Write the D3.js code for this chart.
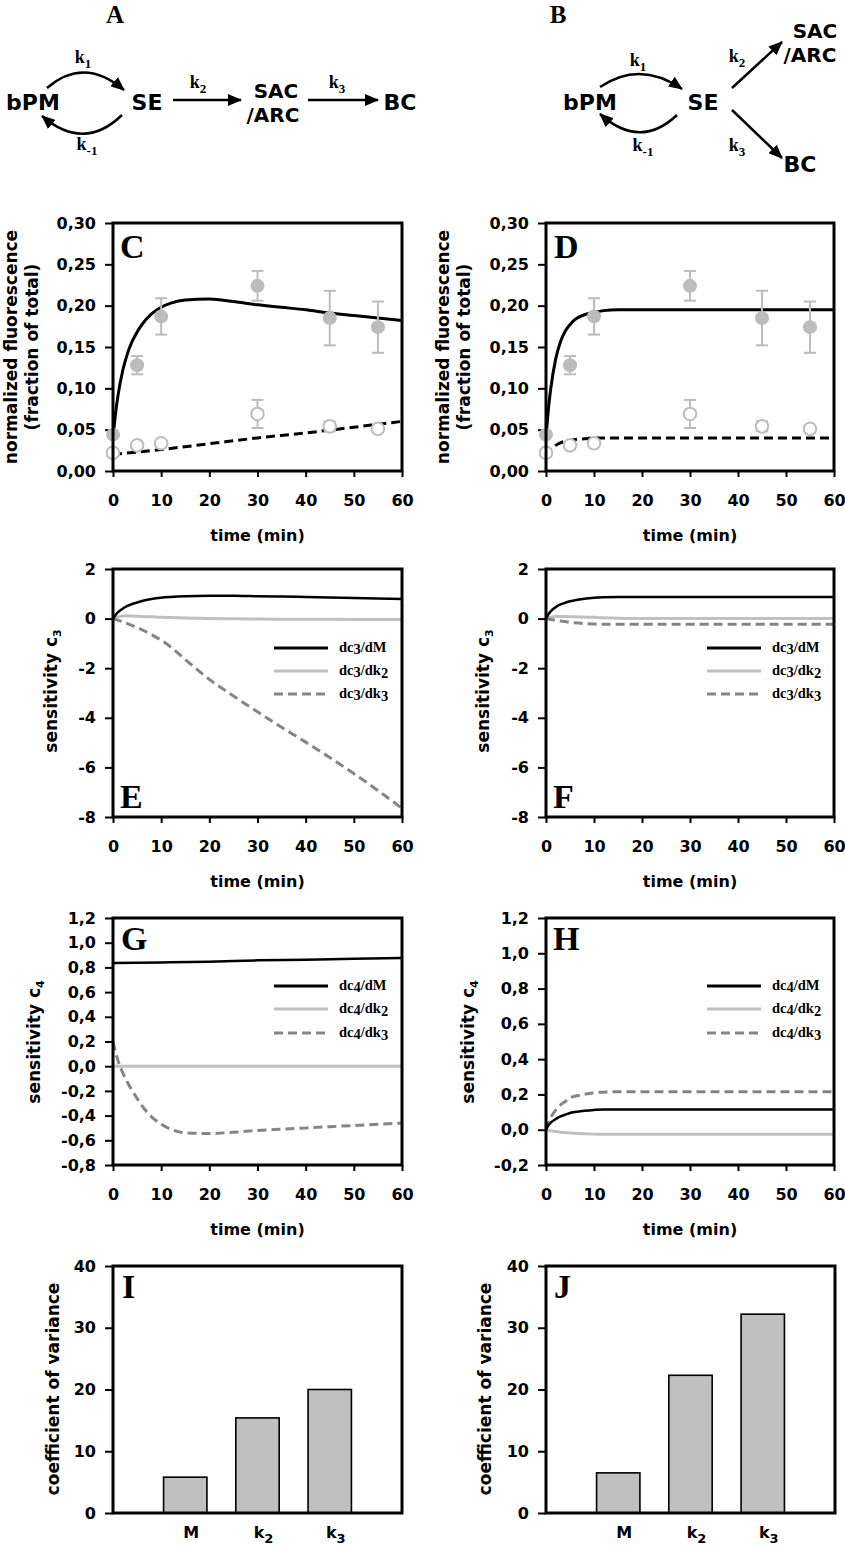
<!DOCTYPE html>
<html><head><meta charset="utf-8">
<script src="https://cdn.jsdelivr.net/npm/d3@7"></script>
<style>body{margin:0;background:#fff}</style>
</head><body>
<svg id="fig" width="845" height="1547"></svg>
<script>
// ---------------- DATA ----------------
const obsTimes = [0, 5, 10, 30, 45, 55];
const sacObs   = [0.044, 0.128, 0.187, 0.224, 0.185, 0.174];
const sacErr   = [0.003, 0.011, 0.022, 0.018, 0.033, 0.031];
const bcObs    = [0.022, 0.031, 0.0335, 0.069, 0.054, 0.051];
const bcErr    = [0.002, 0.003, 0.003, 0.017, 0.006, 0.003];

const tModel = [0, 0.5, 1, 2, 3, 4, 5, 6, 8, 10, 12, 15, 20, 25, 30, 35, 40, 45, 50, 55, 60];
// model A (sequential)
const sacFitA = [0.040,0.068,0.090,0.121,0.142,0.157,0.168,0.177,0.190,0.198,0.203,0.207,0.208,0.205,0.201,0.198,0.195,0.191,0.188,0.185,0.182];
const bcFitATimes = [0, 10, 20, 30, 40, 50, 60];
const bcFitA = [0.020, 0.026, 0.033, 0.040, 0.046, 0.053, 0.060];
// model B (branched)
const sacFitB = [0.040,0.075,0.100,0.135,0.156,0.169,0.177,0.183,0.189,0.192,0.194,0.195,0.195,0.195,0.195,0.195,0.195,0.195,0.195,0.195,0.195];
const bcFitB  = [0.018,0.022,0.026,0.031,0.034,0.036,0.037,0.038,0.039,0.040,0.040,0.040,0.040,0.040,0.040,0.040,0.040,0.040,0.040,0.040,0.040];

// sensitivity c3
const dc3dM_A  = [0,0.14,0.25,0.40,0.51,0.59,0.65,0.71,0.79,0.84,0.87,0.90,0.92,0.92,0.90,0.89,0.87,0.85,0.83,0.81,0.79];
const dc3dk2_A = [0,0.04,0.07,0.10,0.11,0.10,0.09,0.08,0.07,0.05,0.04,0.02,0.00,-0.01,-0.02,-0.025,-0.03,-0.03,-0.035,-0.04,-0.04];
const dc3dk3_A = [0,-0.03,-0.06,-0.13,-0.20,-0.28,-0.36,-0.45,-0.65,-0.87,-1.15,-1.65,-2.45,-3.12,-3.76,-4.38,-4.98,-5.60,-6.25,-6.93,-7.65];
const dc3dM_B  = [0,0.17,0.30,0.46,0.57,0.64,0.70,0.74,0.80,0.84,0.86,0.87,0.87,0.87,0.87,0.87,0.87,0.87,0.87,0.87,0.87];
const dc3dk2_B = [0,0.03,0.06,0.08,0.08,0.08,0.07,0.07,0.06,0.05,0.03,0.01,0,0,0,0,0,0,0,0,0];
const dc3dk3_B = [0,-0.02,-0.04,-0.07,-0.10,-0.12,-0.15,-0.17,-0.20,-0.22,-0.23,-0.23,-0.23,-0.23,-0.23,-0.23,-0.23,-0.23,-0.23,-0.23,-0.23];

// sensitivity c4
const dc4dM_ATimes = [0, 10, 20, 30, 40, 50, 60];
const dc4dM_A  = [0.835, 0.840, 0.845, 0.857, 0.862, 0.870, 0.876];
const dc4dk2_ATimes = [0, 60];
const dc4dk2_A = [0, 0];
const dc4dk3_A = [0.20,0.12,0.05,-0.05,-0.13,-0.20,-0.26,-0.32,-0.41,-0.47,-0.51,-0.54,-0.545,-0.535,-0.52,-0.51,-0.50,-0.49,-0.48,-0.47,-0.46];
const dc4dM_B  = [0,0.025,0.040,0.060,0.075,0.085,0.095,0.100,0.107,0.112,0.115,0.115,0.115,0.115,0.115,0.115,0.115,0.115,0.115,0.115,0.115];
const dc4dk2_B = [0,-0.003,-0.006,-0.010,-0.014,-0.016,-0.018,-0.020,-0.023,-0.025,-0.026,-0.026,-0.026,-0.026,-0.026,-0.026,-0.026,-0.026,-0.026,-0.026,-0.026];
const dc4dk3_B = [0,0.04,0.07,0.11,0.14,0.16,0.18,0.19,0.20,0.21,0.213,0.215,0.215,0.215,0.215,0.215,0.215,0.215,0.215,0.215,0.215];

// coefficient of variance
const barCats = ["M", "k2", "k3"];
const cvModelA = [5.8, 15.4, 20.0];
const cvModelB = [6.5, 22.3, 32.2];

// ticks
const timeTicks = [0, 10, 20, 30, 40, 50, 60];
const fluoTicks = [0, 0.05, 0.10, 0.15, 0.20, 0.25, 0.30];
const c3Ticks = [-8, -6, -4, -2, 0, 2];
const c4TicksA = [-0.8, -0.6, -0.4, -0.2, 0, 0.2, 0.4, 0.6, 0.8, 1.0, 1.2];
const c4TicksB = [-0.2, 0, 0.2, 0.4, 0.6, 0.8, 1.0, 1.2];
const cvTicks = [0, 10, 20, 30, 40];

// ---------------- STYLE ----------------
const SANS = "'DejaVu Sans', sans-serif";
const SERIF = "'Liberation Serif', 'Times New Roman', serif";
const BLACK = "#000", LIGHT = "#c0c0c0", DARKG = "#858585", PTG = "#bcbcbc";

const svg = d3.select("#fig");
svg.append("rect").attr("width", 845).attr("height", 1547).attr("fill", "#fff");
const defs = svg.append("defs");
defs.append("marker").attr("id", "arr").attr("markerUnits", "userSpaceOnUse")
  .attr("viewBox", "0 0 14 12").attr("markerWidth", 14).attr("markerHeight", 12)
  .attr("refX", 13).attr("refY", 6).attr("orient", "auto")
  .append("path").attr("d", "M0,0 L14,6 L0,12 Z").attr("fill", "#000");

const commaFmt = n => d => (d < -1e-9 ? "-" : "") + Math.abs(d).toFixed(n).replace(".", ",");
const intFmt = d => (d < 0 ? "-" : "") + Math.abs(d);

// ---------------- DIAGRAMS ----------------
function node(x, y, t, size) {
  svg.append("text").attr("x", x).attr("y", y).attr("text-anchor", "middle")
    .attr("font-family", SANS).attr("font-weight", "bold").attr("font-size", size || 22).text(t);
}
function klab(x, y, sub) {
  const t = svg.append("text").attr("x", x).attr("y", y).attr("text-anchor", "middle")
    .attr("font-family", SERIF).attr("font-weight", "bold").attr("font-size", 18);
  t.append("tspan").text("k");
  t.append("tspan").attr("dy", 5).attr("font-size", 13).text(sub);
}
function arrowPath(d) {
  svg.append("path").attr("d", d).attr("fill", "none").attr("stroke", "#000")
    .attr("stroke-width", 2.5).attr("marker-end", "url(#arr)");
}
function bigLetter(x, y, t, size) {
  svg.append("text").attr("x", x).attr("y", y).attr("text-anchor", "middle")
    .attr("font-family", SERIF).attr("font-weight", "bold").attr("font-size", size).text(t);
}
// A
bigLetter(115, 23, "A", 25);
node(33, 110, "bPM"); node(147, 110, "SE"); node(276, 98, "SAC", 20); node(273, 122, "/ARC", 20); node(400, 110, "BC");
arrowPath("M47,88 Q84,56 124,90");
arrowPath("M122,115 Q84,152 42,116");
arrowPath("M173,100 L241,100");
arrowPath("M308,100 L378,100");
klab(83, 63, "1"); klab(87, 150, "-1"); klab(198, 88, "2"); klab(337, 88, "3");
// B
bigLetter(558, 23, "B", 25);
node(590, 110, "bPM"); node(703, 110, "SE"); node(815, 38, "SAC", 20); node(810, 62, "/ARC", 20); node(800, 172, "BC");
arrowPath("M600,87 Q640,60 682,89");
arrowPath("M677,115 Q640,150 600,114");
arrowPath("M732,88 L782,42");
arrowPath("M732,110 L782,158");
klab(638, 66, "1"); klab(643, 151, "-1"); klab(737, 62, "2"); klab(737, 151, "3");

// ---------------- PANELS ----------------
let clipId = 0;
function styleAxis(g) {
  g.select(".domain").remove();
  g.selectAll(".tick line").attr("stroke", "#000").attr("stroke-width", 2);
  g.selectAll(".tick text").attr("font-family", SANS).attr("font-weight", "bold")
    .attr("font-size", 16).attr("fill", "#000");
  g.attr("font-family", null).attr("font-size", null);
}
function yTitle(y, parts) {
  parts.forEach(p => {
    const t = svg.append("text").attr("transform", `translate(${p.x},${y}) rotate(-90)`)
      .attr("text-anchor", "middle").attr("font-family", SANS).attr("font-weight", "bold")
      .attr("font-size", 17);
    p.segs.forEach(s => {
      const ts = t.append("tspan").text(s[0]);
      if (s[1]) ts.attr("font-size", 11).attr("dy", 4);
    });
  });
}
function timePanel(cfg) {
  const x = d3.scaleLinear().domain([0, 60]).range([cfg.x0, cfg.x1]);
  const y = d3.scaleLinear().domain(cfg.yDomain).range([cfg.y1, cfg.y0]);
  const id = "clip" + (clipId++);
  defs.append("clipPath").attr("id", id).append("rect")
    .attr("x", cfg.x0).attr("y", cfg.y0).attr("width", cfg.x1 - cfg.x0).attr("height", cfg.y1 - cfg.y0);

  const gx = svg.append("g").attr("transform", `translate(0,${cfg.y1})`)
    .call(d3.axisBottom(x).tickValues(timeTicks).tickSize(6).tickPadding(18).tickFormat(d3.format("d")));
  styleAxis(gx);
  const gy = svg.append("g").attr("transform", `translate(${cfg.x0},0)`)
    .call(d3.axisLeft(y).tickValues(cfg.yTicks).tickSize(8).tickPadding(9).tickFormat(cfg.yFmt));
  styleAxis(gy);

  svg.append("text").attr("x", (cfg.x0 + cfg.x1) / 2).attr("y", cfg.y1 + 70).attr("text-anchor", "middle")
    .attr("font-family", SANS).attr("font-weight", "bold").attr("font-size", 16).text("time (min)");

  const plot = svg.append("g").attr("clip-path", `url(#${id})`);
  if (cfg.points) {
    cfg.points.forEach(p => {
      const pts = obsTimes.map((t, i) => ({t, v: p.vals[i], e: p.errs[i]}));
      const eb = svg.append("g").attr("stroke", PTG).attr("stroke-width", 2);
      pts.forEach(d => {
        if (d.e > 0.004) {
          eb.append("line").attr("x1", x(d.t)).attr("x2", x(d.t)).attr("y1", y(d.v - d.e)).attr("y2", y(d.v + d.e));
          [d.v - d.e, d.v + d.e].forEach(v => eb.append("line")
            .attr("x1", x(d.t) - 6).attr("x2", x(d.t) + 6).attr("y1", y(v)).attr("y2", y(v)));
        }
      });
      svg.append("g").selectAll("circle").data(pts).join("circle")
        .attr("cx", d => x(d.t)).attr("cy", d => y(d.v)).attr("r", p.filled ? 7 : 6.3)
        .attr("fill", p.filled ? PTG : "#fff")
        .attr("stroke", p.filled ? "none" : PTG).attr("stroke-width", 2);
    });
  }
  cfg.series.forEach(s => {
    const pts = s.t.map((t, i) => [t, s.v[i]]);
    plot.append("path").datum(pts)
      .attr("d", d3.line().x(d => x(d[0])).y(d => y(d[1])).curve(d3.curveMonotoneX))
      .attr("fill", "none").attr("stroke", s.color).attr("stroke-width", s.w || 2.5)
      .attr("stroke-dasharray", s.dash || null);
  });
  if (cfg.legend) {
    cfg.legend.items.forEach((it, i) => {
      const ly = cfg.legend.ys[i];
      svg.append("line").attr("x1", cfg.x0 + 161).attr("x2", cfg.x0 + 215).attr("y1", ly).attr("y2", ly)
        .attr("stroke", it.color).attr("stroke-width", it.w || 2.5).attr("stroke-dasharray", it.dash || null);
      const t = svg.append("text").attr("x", cfg.x0 + 226).attr("y", ly + 4)
        .attr("font-family", SERIF).attr("font-weight", "bold").attr("font-size", 14.5);
      t.append("tspan").text("dc");
      t.append("tspan").attr("dy", 2).text(cfg.legend.c);
      t.append("tspan").attr("dy", -2).text(it.label[0]);
      if (it.label[1]) t.append("tspan").attr("dy", 3).text(it.label[1]);
    });
  }
  svg.append("rect").attr("x", cfg.x0).attr("y", cfg.y0).attr("width", cfg.x1 - cfg.x0)
    .attr("height", cfg.y1 - cfg.y0).attr("fill", "none").attr("stroke", "#000").attr("stroke-width", 3);
  svg.append("text").attr("x", cfg.lx).attr("y", cfg.ly).attr("font-family", SERIF)
    .attr("font-weight", "bold").attr("font-size", 34).text(cfg.letter);
}

function barPanel(cfg) {
  const x = d3.scalePoint().domain(barCats).range([cfg.x0, cfg.x1]).padding(1);
  const y = d3.scaleLinear().domain([0, 40]).range([cfg.y1, cfg.y0]);
  const bw = x.step() * 0.6;
  svg.append("g").selectAll("rect").data(barCats.map((c, i) => ({c, v: cfg.vals[i]}))).join("rect")
    .attr("x", d => x(d.c) - bw / 2).attr("width", bw)
    .attr("y", d => y(d.v)).attr("height", d => y(0) - y(d.v))
    .attr("fill", LIGHT).attr("stroke", "#000").attr("stroke-width", 1.6);
  const gy = svg.append("g").attr("transform", `translate(${cfg.x0},0)`)
    .call(d3.axisLeft(y).tickValues(cvTicks).tickSize(8).tickPadding(9).tickFormat(d3.format("d")));
  styleAxis(gy);
  barCats.forEach(c => {
    const t = svg.append("text").attr("x", x(c) + 6).attr("y", cfg.y1 + 25).attr("text-anchor", "middle")
      .attr("font-family", SANS).attr("font-weight", "bold").attr("font-size", 16);
    t.append("tspan").text(c[0]);
    if (c.length > 1) t.append("tspan").attr("dy", 5).attr("font-size", 13).text(c.slice(1));
  });
  svg.append("rect").attr("x", cfg.x0).attr("y", cfg.y0).attr("width", cfg.x1 - cfg.x0)
    .attr("height", cfg.y1 - cfg.y0).attr("fill", "none").attr("stroke", "#000").attr("stroke-width", 3);
  svg.append("text").attr("x", cfg.lx).attr("y", cfg.ly).attr("font-family", SERIF)
    .attr("font-weight", "bold").attr("font-size", 34).text(cfg.letter);
}

const L = {x0: 113, x1: 402}, R = {x0: 546, x1: 834};
const sacPts = {vals: sacObs, errs: sacErr, filled: true};
const bcPts = {vals: bcObs, errs: bcErr, filled: false};

// C, D
timePanel({...L, y0: 223, y1: 471, yDomain: [0, 0.30], yTicks: fluoTicks, yFmt: commaFmt(2),
  points: [sacPts, bcPts], letter: "C", lx: 120, ly: 258,
  series: [{t: tModel, v: sacFitA, color: BLACK, w: 3}, {t: bcFitATimes, v: bcFitA, color: BLACK, w: 3, dash: "9,5"}]});
timePanel({...R, y0: 223, y1: 471, yDomain: [0, 0.30], yTicks: fluoTicks, yFmt: commaFmt(2),
  points: [sacPts, bcPts], letter: "D", lx: 554, ly: 258,
  series: [{t: tModel, v: sacFitB, color: BLACK, w: 3}, {t: tModel, v: bcFitB, color: BLACK, w: 3, dash: "9,5"}]});
yTitle(347, [{x: 17, segs: [["normalized fluorescence"]]}, {x: 38, segs: [["(fraction of total)"]]}]);
yTitle(347, [{x: 449, segs: [["normalized fluorescence"]]}, {x: 470, segs: [["(fraction of total)"]]}]);

const legItems = [
  {label: ["/dM"], color: BLACK, w: 3},
  {label: ["/dk", "2"], color: LIGHT, w: 3},
  {label: ["/dk", "3"], color: DARKG, w: 3, dash: "9,5"}
];
// E, F
timePanel({...L, y0: 569, y1: 817, yDomain: [-8, 2], yTicks: c3Ticks, yFmt: intFmt, letter: "E", lx: 120, ly: 808,
  series: [{t: tModel, v: dc3dk2_A, color: LIGHT, w: 3}, {t: tModel, v: dc3dk3_A, color: DARKG, w: 3, dash: "9,5"},
           {t: tModel, v: dc3dM_A, color: BLACK, w: 2.5}],
  legend: {c: "3", items: legItems, ys: [648, 671, 694]}});
timePanel({...R, y0: 569, y1: 817, yDomain: [-8, 2], yTicks: c3Ticks, yFmt: intFmt, letter: "F", lx: 553, ly: 808,
  series: [{t: tModel, v: dc3dk2_B, color: LIGHT, w: 3}, {t: tModel, v: dc3dk3_B, color: DARKG, w: 3, dash: "9,5"},
           {t: tModel, v: dc3dM_B, color: BLACK, w: 2.5}],
  legend: {c: "3", items: legItems, ys: [648, 671, 694]}});
yTitle(691, [{x: 57, segs: [["sensitivity c"], ["3", true]]}]);
yTitle(691, [{x: 489, segs: [["sensitivity c"], ["3", true]]}]);

// G, H
timePanel({...L, y0: 918, y1: 1165, yDomain: [-0.8, 1.2], yTicks: c4TicksA, yFmt: commaFmt(1), letter: "G", lx: 121, ly: 950,
  series: [{t: dc4dk2_ATimes, v: dc4dk2_A, color: LIGHT, w: 3}, {t: tModel, v: dc4dk3_A, color: DARKG, w: 3, dash: "9,5"},
           {t: dc4dM_ATimes, v: dc4dM_A, color: BLACK, w: 2.5}],
  legend: {c: "4", items: legItems, ys: [986, 1009, 1033]}});
timePanel({...R, y0: 918, y1: 1165, yDomain: [-0.2, 1.2], yTicks: c4TicksB, yFmt: commaFmt(1), letter: "H", lx: 553, ly: 950,
  series: [{t: tModel, v: dc4dk2_B, color: LIGHT, w: 3}, {t: tModel, v: dc4dk3_B, color: DARKG, w: 3, dash: "9,5"},
           {t: tModel, v: dc4dM_B, color: BLACK, w: 2.5}],
  legend: {c: "4", items: legItems, ys: [986, 1009, 1033]}});
yTitle(1042, [{x: 40, segs: [["sensitivity c"], ["4", true]]}]);
yTitle(1042, [{x: 474, segs: [["sensitivity c"], ["4", true]]}]);

// I, J
barPanel({...L, y0: 1266, y1: 1513, vals: cvModelA, letter: "I", lx: 122, ly: 1298});
barPanel({x0: 546, x1: 835, y0: 1266, y1: 1513, vals: cvModelB, letter: "J", lx: 554, ly: 1298});
yTitle(1389, [{x: 59, segs: [["coefficient of variance"]]}]);
yTitle(1389, [{x: 491, segs: [["coefficient of variance"]]}]);
</script>
</body></html>
